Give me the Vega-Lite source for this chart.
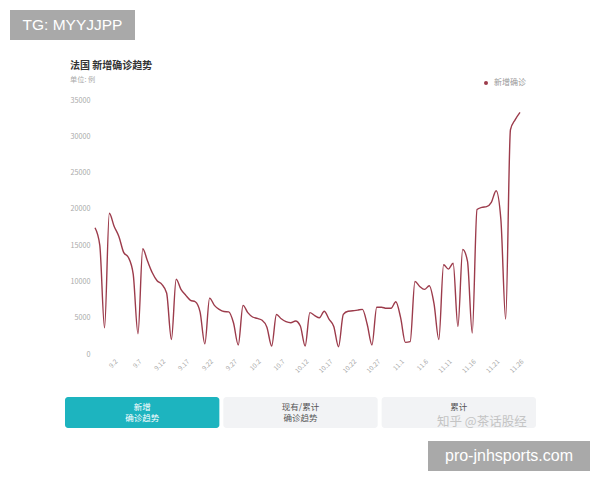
{
  "$schema": "https://vega.github.io/schema/vega-lite/v6.json",
  "background": "white",
  "padding": {"left": 10, "top": 10, "right": 0, "bottom": 0},
  "spacing": 13,
  "config": {"font": "Noto Sans CJK SC", "view": {"stroke": null}},
  "resolve": {"scale": {"color": "independent"}, "legend": {"color": "independent"}},
  "vconcat": [
    {
      "spacing": 0,
      "hconcat": [
        {
          "width": 125, "height": 30,
          "view": {"fill": "#a9a9a9", "stroke": null},
          "data": {"values": [{"label": "TG: MYYJJPP"}]},
          "mark": {"type": "text", "color": "#ffffff", "fontSize": 15.5, "font": "Liberation Sans"},
          "encoding": {"text": {"field": "label"}}
        },
        {
          "width": 1, "height": 37,
          "data": {"values": [{}]},
          "mark": {"type": "rect", "opacity": 0}
        }
      ]
    },
    {
      "spacing": 0,
      "resolve": {"scale": {"color": "independent"}, "legend": {"color": "independent"}},
      "hconcat": [
        {
          "width": 60, "height": 284,
          "data": {"values": [{}]},
          "mark": {"type": "rect", "opacity": 0}
        },
        {
          "width": 425, "height": 254,
          "title": {
            "text": "法国 新增确诊趋势",
            "subtitle": "单位: 例",
            "anchor": "start",
            "frame": "bounds",
            "fontSize": 10,
            "fontWeight": "bold",
            "color": "#333333",
            "subtitleFontSize": 7.2,
            "subtitleColor": "#aaaaaa",
            "subtitlePadding": 5,
            "offset": -4
          },
          "data": {"values": [
            {"date": "8.29", "cases": 17400}, {"date": "8.30", "cases": 15000}, {"date": "8.31", "cases": 3600},
            {"date": "9.1", "cases": 19400}, {"date": "9.2", "cases": 17600}, {"date": "9.3", "cases": 16200},
            {"date": "9.4", "cases": 14000}, {"date": "9.5", "cases": 13300}, {"date": "9.6", "cases": 11000},
            {"date": "9.7", "cases": 2800}, {"date": "9.8", "cases": 14500}, {"date": "9.9", "cases": 12800},
            {"date": "9.10", "cases": 11200}, {"date": "9.11", "cases": 10100}, {"date": "9.12", "cases": 9600},
            {"date": "9.13", "cases": 8400}, {"date": "9.14", "cases": 2000}, {"date": "9.15", "cases": 10300},
            {"date": "9.16", "cases": 8900}, {"date": "9.17", "cases": 8100}, {"date": "9.18", "cases": 7400},
            {"date": "9.19", "cases": 7200}, {"date": "9.20", "cases": 5800}, {"date": "9.21", "cases": 1400},
            {"date": "9.22", "cases": 7700}, {"date": "9.23", "cases": 6700}, {"date": "9.24", "cases": 6150},
            {"date": "9.25", "cases": 5850}, {"date": "9.26", "cases": 5800}, {"date": "9.27", "cases": 4300},
            {"date": "9.28", "cases": 1250}, {"date": "9.29", "cases": 6700}, {"date": "9.30", "cases": 5700},
            {"date": "10.1", "cases": 5100}, {"date": "10.2", "cases": 4900}, {"date": "10.3", "cases": 4650},
            {"date": "10.4", "cases": 3700}, {"date": "10.5", "cases": 1100}, {"date": "10.6", "cases": 5450},
            {"date": "10.7", "cases": 4850}, {"date": "10.8", "cases": 4450}, {"date": "10.9", "cases": 4300},
            {"date": "10.10", "cases": 4550}, {"date": "10.11", "cases": 3850}, {"date": "10.12", "cases": 1100},
            {"date": "10.13", "cases": 5700}, {"date": "10.14", "cases": 5300}, {"date": "10.15", "cases": 5000},
            {"date": "10.16", "cases": 5900}, {"date": "10.17", "cases": 4800}, {"date": "10.18", "cases": 3800},
            {"date": "10.19", "cases": 1000}, {"date": "10.20", "cases": 5450}, {"date": "10.21", "cases": 5900},
            {"date": "10.22", "cases": 5950}, {"date": "10.23", "cases": 6050}, {"date": "10.24", "cases": 6150},
            {"date": "10.25", "cases": 4100}, {"date": "10.26", "cases": 1250}, {"date": "10.27", "cases": 6450},
            {"date": "10.28", "cases": 6450}, {"date": "10.29", "cases": 6300}, {"date": "10.30", "cases": 6300},
            {"date": "10.31", "cases": 7200}, {"date": "11.1", "cases": 5000}, {"date": "11.2", "cases": 1600},
            {"date": "11.3", "cases": 1700}, {"date": "11.4", "cases": 10000}, {"date": "11.5", "cases": 9300},
            {"date": "11.6", "cases": 8900}, {"date": "11.7", "cases": 9400}, {"date": "11.8", "cases": 6900},
            {"date": "11.9", "cases": 2000}, {"date": "11.10", "cases": 12300}, {"date": "11.11", "cases": 11700},
            {"date": "11.12", "cases": 12500}, {"date": "11.13", "cases": 3800}, {"date": "11.14", "cases": 14400},
            {"date": "11.15", "cases": 12800}, {"date": "11.16", "cases": 2900}, {"date": "11.17", "cases": 19900},
            {"date": "11.18", "cases": 20200}, {"date": "11.19", "cases": 20300}, {"date": "11.20", "cases": 20900},
            {"date": "11.21", "cases": 22500}, {"date": "11.22", "cases": 18500}, {"date": "11.23", "cases": 4800},
            {"date": "11.24", "cases": 30900}, {"date": "11.25", "cases": 32300}, {"date": "11.26", "cases": 33300}
          ]},
          "mark": {"type": "line", "interpolate": "monotone", "strokeWidth": 1.4},
          "encoding": {
            "x": {
              "field": "date", "type": "ordinal", "sort": null,
              "scale": {"type": "point", "padding": 0},
              "axis": {
                "title": null,
                "values": ["9.2", "9.7", "9.12", "9.17", "9.22", "9.27", "10.2", "10.7", "10.12", "10.17", "10.22", "10.27", "11.1", "11.6", "11.11", "11.16", "11.21", "11.26"],
                "labelAngle": -45, "labelFontSize": 6.5, "labelColor": "#a6a6a6",
                "domain": false, "ticks": false, "labelPadding": 4, "grid": false
              }
            },
            "y": {
              "field": "cases", "type": "quantitative",
              "scale": {"domain": [0, 35000], "nice": false},
              "axis": {
                "title": null, "format": "d",
                "values": [0, 5000, 10000, 15000, 20000, 25000, 30000, 35000],
                "grid": false, "domain": false, "ticks": false,
                "labelFontSize": 7.2, "labelColor": "#aaaaaa", "labelPadding": 5
              }
            },
            "color": {
              "datum": "新增确诊",
              "scale": {"range": ["#9c3b4b"]},
              "legend": {
                "title": null, "orient": "none", "legendX": 387, "legendY": -21,
                "symbolType": "circle", "symbolSize": 16, "symbolFillColor": "#9c3b4b",
                "symbolStrokeWidth": 0, "labelFontSize": 8, "labelColor": "#999999"
              }
            }
          }
        }
      ]
    },
    {
      "spacing": 0,
      "hconcat": [
        {
          "width": 54, "height": 31,
          "data": {"values": [{}]},
          "mark": {"type": "rect", "opacity": 0}
        },
        {
          "width": 471, "height": 31,
          "data": {"values": [
            {"tab": "新增确诊趋势", "label": ["新增", "确诊趋势"], "active": true},
            {"tab": "现有/累计确诊趋势", "label": ["现有/累计", "确诊趋势"], "active": false},
            {"tab": "累计确诊趋势", "label": ["累计", ""], "active": false}
          ]},
          "encoding": {
            "x": {"field": "tab", "type": "nominal", "sort": null, "scale": {"paddingInner": 0.025, "paddingOuter": 0}, "axis": null}
          },
          "layer": [
            {
              "mark": {"type": "rect", "cornerRadius": 3},
              "encoding": {"color": {"condition": {"test": "datum.active", "value": "#1db4bf"}, "value": "#f2f3f5"}}
            },
            {
              "mark": {"type": "text", "fontSize": 8.5, "lineHeight": 11, "dy": -5.5},
              "encoding": {
                "text": {"field": "label"},
                "color": {"condition": {"test": "datum.active", "value": "#ffffff"}, "value": "#555555"}
              }
            },
            {
              "data": {"values": [{"tab": "累计确诊趋势", "wm": "知乎 @茶话股经"}]},
              "mark": {"type": "text", "fontSize": 12.5, "color": "#c4c4c4", "dx": 23, "dy": 9},
              "encoding": {"text": {"field": "wm"}}
            }
          ]
        }
      ]
    },
    {
      "spacing": 0,
      "hconcat": [
        {
          "width": 418, "height": 30,
          "data": {"values": [{}]},
          "mark": {"type": "rect", "opacity": 0}
        },
        {
          "width": 162, "height": 30,
          "view": {"fill": "#a9a9a9", "stroke": null},
          "data": {"values": [{"label": "pro-jnhsports.com"}]},
          "mark": {"type": "text", "color": "#ffffff", "fontSize": 16, "font": "Liberation Sans"},
          "encoding": {"text": {"field": "label"}}
        }
      ]
    }
  ]
}
